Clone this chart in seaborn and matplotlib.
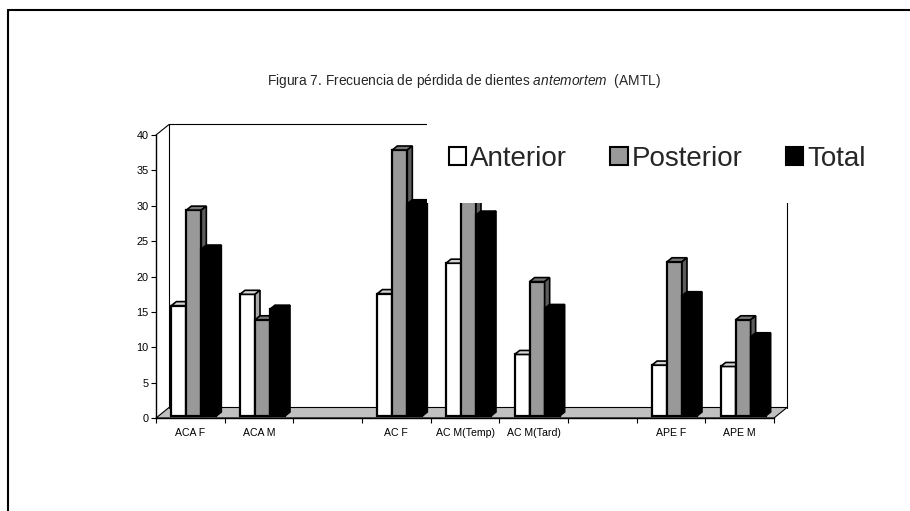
import numpy as np
import pandas as pd
import matplotlib
matplotlib.use("Agg")
import matplotlib.pyplot as plt
import seaborn as sns
from matplotlib.patches import Polygon, Rectangle
from matplotlib.lines import Line2D
from matplotlib.transforms import ScaledTranslation

# ---- data -------------------------------------------------------------
grupos = ["ACA F", "ACA M", "AC F", "AC M(Temp)", "AC M(Tard)", "APE F", "APE M"]
orden = ["ACA F", "ACA M", "", "AC F", "AC M(Temp)", "AC M(Tard)", " ", "APE F", "APE M"]
series = ["Anterior", "Posterior", "Total"]
anterior = [15.6, 17.2, 17.3, 21.6, 8.7, 7.2, 7.0]
posterior = [29.1, 13.6, 37.6, 33.0, 19.0, 21.8, 13.6]
total = [23.6, 15.1, 30.0, 28.4, 15.2, 17.0, 11.2]
y_ticks = [0, 5, 10, 15, 20, 25, 30, 35, 40]
titulo = r"Figura 7. Frecuencia de pérdida de dientes $\mathit{antemortem}$  (AMTL)"

colores = ["#ffffff", "#999999", "#000000"]
# shading for the top and right faces of each series
caras_sup = ["#d4d4d4", "#767676", "#000000"]
caras_lat = ["#a8a8a8", "#5c5c5c", "#000000"]

df = pd.DataFrame({
    "grupo": grupos * 3,
    "serie": np.repeat(series, len(grupos)),
    "valor": anterior + posterior + total,
})

# ---- figure -----------------------------------------------------------
sns.set_style("white")
plt.rcParams["font.family"] = ["Liberation Sans", "DejaVu Sans"]
plt.rcParams["mathtext.fontset"] = "custom"
plt.rcParams["mathtext.rm"] = "Liberation Sans"
plt.rcParams["mathtext.it"] = "Liberation Sans:italic"

W, H, DPI = 910, 511, 100
fig = plt.figure(figsize=(W / DPI, H / DPI), dpi=DPI)
fig.patch.set_facecolor("white")
ax = fig.add_axes([156 / W, (H - 418) / H, (774 - 156) / W, (418 - 135) / H])
ax.patch.set_alpha(0)

sns.barplot(data=df, x="grupo", y="valor", hue="serie", order=orden,
            hue_order=series, palette=colores, saturation=1, width=0.655,
            edgecolor="black", linewidth=1.6, errorbar=None, legend=False, ax=ax)

ax.set_xlim(-0.5, len(orden) - 0.5)
ax.set_ylim(0, 40)
ax.set_xlabel("")
ax.set_ylabel("")


def desplaza(x, y, dx, dy):
    """Data point moved by (dx, dy) screen pixels, returned in data coords."""
    p = ax.transData.transform((x, y)) + np.array([dx, dy])
    return ax.transData.inverted().transform(p)


# depth of the walls and of the columns (pixels)
PX, PY = 13, 10.5
OX, OY = 3.5, 2.0
BX, BY = 5.0, 4.0
x_min, x_max = -0.5, len(orden) - 0.5

# floor
suelo = Polygon([desplaza(x_min, 0, 0, 0), desplaza(x_max, 0, 0, 0),
                 desplaza(x_max, 0, PX, PY), desplaza(x_min, 0, PX, PY)],
                closed=True, facecolor="#c0c0c0", edgecolor="black",
                linewidth=0.8, zorder=1, clip_on=False)
ax.add_patch(suelo)

# side wall and back wall outline
lineas = [
    (desplaza(x_min, 40, 0, 0), desplaza(x_min, 40, PX, PY)),
    (desplaza(x_min, 0, PX, PY), desplaza(x_min, 40, PX, PY)),
    (desplaza(x_min, 40, PX, PY), desplaza(x_max, 40, PX, PY)),
    (desplaza(x_max, 0, PX, PY), desplaza(x_max, 40, PX, PY)),
]
for a, b in lineas:
    ax.add_line(Line2D([a[0], b[0]], [a[1], b[1]], color="black",
                       linewidth=0.8, zorder=1.5, clip_on=False))

# 3D faces for every column, drawn left to right
barras = sorted([p for p in ax.patches
                 if isinstance(p, Rectangle) and p is not suelo and p.get_height() > 0],
                key=lambda p: p.get_x())
desp = ScaledTranslation(OX / DPI, OY / DPI, fig.dpi_scale_trans)
for i, b in enumerate(barras):
    gris = b.get_facecolor()[0]
    k = int(np.argmin([abs(gris - v) for v in (1.0, 0x99 / 255, 0.0)]))
    x0, x1 = b.get_x(), b.get_x() + b.get_width()
    h = b.get_y() + b.get_height()
    z = 3 + i * 0.01
    b.set_transform(ax.transData + desp)
    b.set_zorder(z)
    b.set_clip_on(False)
    sup = [desplaza(x0, h, OX, OY), desplaza(x1, h, OX, OY),
           desplaza(x1, h, OX + BX, OY + BY), desplaza(x0, h, OX + BX, OY + BY)]
    lat = [desplaza(x1, h, OX, OY), desplaza(x1, h, OX + BX, OY + BY),
           desplaza(x1, 0, OX + BX, OY + BY), desplaza(x1, 0, OX, OY)]
    ax.add_patch(Polygon(sup, closed=True, facecolor=caras_sup[k], edgecolor="black",
                         linewidth=1.2, zorder=z, clip_on=False))
    ax.add_patch(Polygon(lat, closed=True, facecolor=caras_lat[k], edgecolor="black",
                         linewidth=1.2, zorder=z, clip_on=False))

# axes and ticks
for s in ("top", "right"):
    ax.spines[s].set_visible(False)
for s in ("left", "bottom"):
    ax.spines[s].set_color("black")
    ax.spines[s].set_linewidth(1.0)
    ax.spines[s].set_zorder(2)

ax.set_yticks(y_ticks)
ax.set_yticklabels([str(v) for v in y_ticks])
ax.tick_params(axis="y", direction="out", length=3.8, width=0.8, pad=1.5,
               labelsize=7.8, colors="black", left=True)
ax.set_xticks(np.arange(x_min, x_max + 0.01, 1.0))
ax.set_xticklabels([])
ax.set_xticks(range(len(orden)), labels=orden, minor=True)
ax.tick_params(axis="x", which="major", direction="out", length=3.8, width=0.8,
               colors="black", bottom=True)
ax.tick_params(axis="x", which="minor", length=0, pad=7.5, labelsize=7.6,
               colors="black")

# legend panel
fig.add_artist(Rectangle((427 / W, 1 - 202.5 / H), (905 - 427) / W, (202.5 - 110) / H,
                         transform=fig.transFigure, facecolor="white",
                         edgecolor="none", zorder=2))
manijas = [Rectangle((0, 0), 1, 1, facecolor=c, edgecolor="black", linewidth=1.5)
           for c in colores]
fig.legend(manijas, series, loc="center left", bbox_to_anchor=(449 / W, 1 - 158.5 / H),
           ncol=3, frameon=False, fontsize=20, handlelength=0.62, handleheight=0.62,
           handletextpad=0.15, columnspacing=1.55, borderpad=0, borderaxespad=0)

# title
fig.text(464 / W, 1 - 80.5 / H, titulo, ha="center", va="center", fontsize=9.9)

# outer frame
fig.add_artist(Line2D([8 / W, 1.0], [1 - 10 / H, 1 - 10 / H], transform=fig.transFigure,
                      color="black", linewidth=1.5))
fig.add_artist(Line2D([8 / W, 8 / W], [1 - 10 / H, 0.0], transform=fig.transFigure,
                      color="black", linewidth=1.5))

fig.savefig("out.png", dpi=DPI)
